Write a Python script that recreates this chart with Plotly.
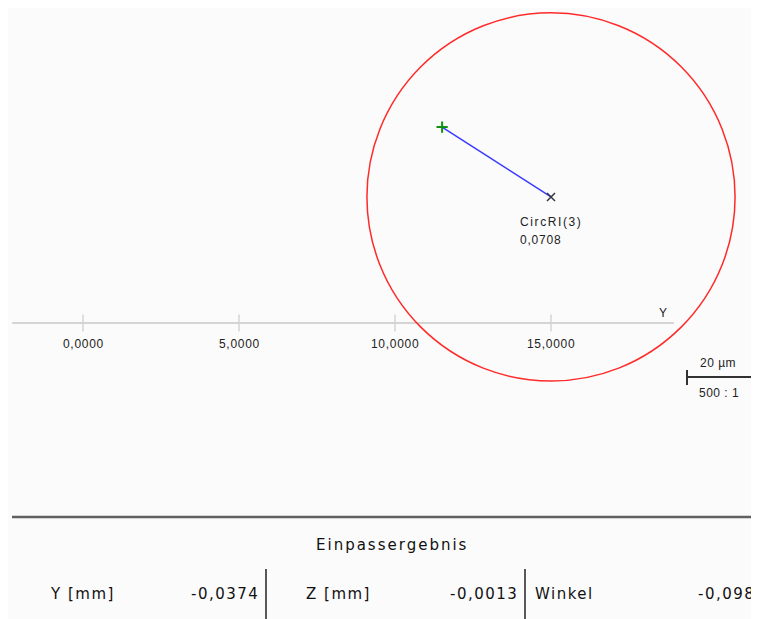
import plotly.graph_objects as go

# ---- data ----
axis_ticks = [0.0, 5.0, 10.0, 15.0]
axis_tick_labels = ["0,0000", "5,0000", "10,0000", "15,0000"]
axis_extent = [-2.27, 18.94]

circle_center = [15.0, 4.04]
circle_radius = 5.9
start_point = [11.51, 6.28]
element_name = "CircRI(3)"
element_value = "0,0708"

scale_text = "20 µm"
scale_ratio = "500 : 1"

table_title = "Einpassergebnis"
table_labels = ["Y [mm]", "Z [mm]", "Winkel"]
table_values = ["-0,0374", "-0,0013", "-0,098"]

# ---- layout constants (reference pixels; page has 8px body margin) ----
OFF = 8
W, H = 759 - OFF, 619 - OFF
PX = 31.2            # pixels per unit
X0 = 83 - OFF        # figure pixel x of Y=0
AY = 323 - OFF       # figure pixel y of axis line

xr = [-X0 / PX, (W - X0) / PX]
yr = [(AY - H) / PX, AY / PX]

def px(x):
    return (x - OFF) / W

def py(y):
    return 1 - (y - OFF) / H

def spaced(t, s):
    return f"<span style='letter-spacing:{s}px'>{t}</span>"

fig = go.Figure()

fig.add_trace(go.Scatter(x=axis_extent, y=[0, 0], mode="lines",
                         line=dict(color="#d4d4d4", width=2), hoverinfo="skip"))
fig.add_trace(go.Scatter(x=axis_ticks, y=[0] * len(axis_ticks), mode="markers",
                         marker=dict(symbol="line-ns", size=12,
                                     line=dict(color="#d4d4d4", width=1.5)),
                         hoverinfo="skip"))
fig.add_trace(go.Scatter(x=[start_point[0], circle_center[0]],
                         y=[start_point[1], circle_center[1]], mode="lines",
                         line=dict(color="#3a3aff", width=1.5), hoverinfo="skip"))
fig.add_trace(go.Scatter(x=[start_point[0]], y=[start_point[1]], mode="markers",
                         marker=dict(symbol="cross-thin", size=8,
                                     line=dict(color="#109010", width=2)),
                         hoverinfo="skip"))
fig.add_trace(go.Scatter(x=[circle_center[0]], y=[circle_center[1]], mode="markers",
                         marker=dict(symbol="x-thin", size=8,
                                     line=dict(color="#333344", width=1.5)),
                         hoverinfo="skip"))

shapes = []
shapes.append(dict(type="circle", xref="x", yref="y",
                   x0=circle_center[0] - circle_radius, x1=circle_center[0] + circle_radius,
                   y0=circle_center[1] - circle_radius, y1=circle_center[1] + circle_radius,
                   line=dict(color="#ff2a2a", width=1.5)))
shapes.append(dict(type="line", xref="paper", yref="paper",
                   x0=px(687), x1=px(759 + 5), y0=py(377), y1=py(377),
                   line=dict(color="#333333", width=2)))
shapes.append(dict(type="line", xref="paper", yref="paper",
                   x0=px(687), x1=px(687), y0=py(370), y1=py(385),
                   line=dict(color="#333333", width=2)))
shapes.append(dict(type="line", xref="paper", yref="paper",
                   x0=px(12), x1=px(759 + 5), y0=py(517), y1=py(517),
                   line=dict(color="#606060", width=2.5)))
for xv in [266, 525]:
    shapes.append(dict(type="line", xref="paper", yref="paper",
                       x0=px(xv), x1=px(xv), y0=py(569), y1=py(619 + 5),
                       line=dict(color="#222222", width=1.5)))

ann = []
small = dict(family="Liberation Sans, Arial", size=12, color="#222222")
for t, lab in zip(axis_ticks, axis_tick_labels):
    ann.append(dict(x=t, y=0, xref="x", yref="y", text=spaced(lab, 0.7), showarrow=False,
                    xanchor="center", yanchor="middle", yshift=-21, font=small))
ann.append(dict(x=axis_extent[1] - 0.35, y=0, xref="x", yref="y", text="Y",
                showarrow=False, xanchor="center", yanchor="middle", yshift=10, font=small))
ann.append(dict(x=circle_center[0], y=circle_center[1], xref="x", yref="y",
                text=spaced(element_name, 1.6), showarrow=False, xanchor="left",
                yanchor="middle", xshift=-33, yshift=-25, font=small))
ann.append(dict(x=circle_center[0], y=circle_center[1], xref="x", yref="y",
                text=spaced(element_value, 0.8), showarrow=False, xanchor="left",
                yanchor="middle", xshift=-33, yshift=-43, font=small))
ann.append(dict(x=px(718), y=py(363), xref="paper", yref="paper",
                text=spaced(scale_text, 0.5), showarrow=False,
                xanchor="center", yanchor="middle", font=small))
ann.append(dict(x=px(719), y=py(393), xref="paper", yref="paper",
                text=spaced(scale_ratio, 0.5), showarrow=False,
                xanchor="center", yanchor="middle", font=small))

big = dict(family="DejaVu Sans", size=15, color="#111111")
ann.append(dict(x=px(392), y=py(545), xref="paper", yref="paper",
                text=spaced(table_title, 2), showarrow=False,
                xanchor="center", yanchor="middle", font=big))
label_x = [48, 304, 533]
value_right = [261, 520, 757]
for i, (lab, val) in enumerate(zip(table_labels, table_values)):
    ann.append(dict(x=px(label_x[i]), y=py(594), xref="paper", yref="paper",
                    text=spaced(lab, 1.5), showarrow=False, xanchor="left",
                    yanchor="middle", font=big))
    ann.append(dict(x=px(value_right[i]), y=py(594), xref="paper", yref="paper",
                    text=spaced(val, 1.5), showarrow=False, xanchor="right",
                    yanchor="middle", font=big))

fig.update_layout(
    width=W, height=H, margin=dict(l=0, r=0, t=0, b=0),
    paper_bgcolor="#fbfbfb", plot_bgcolor="#fbfbfb",
    showlegend=False,
    xaxis=dict(range=xr, visible=False, fixedrange=True),
    yaxis=dict(range=yr, visible=False, fixedrange=True),
    shapes=shapes, annotations=ann,
)

fig.write_html("out.html")
